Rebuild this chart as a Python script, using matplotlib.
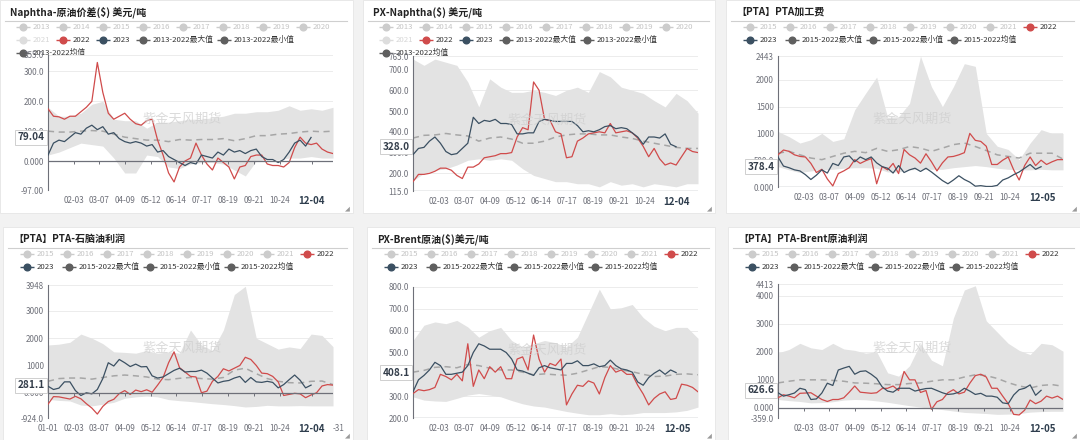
import matplotlib
matplotlib.use('Agg')
import matplotlib.pyplot as plt
import matplotlib.transforms as mtransforms
from matplotlib.patches import Rectangle

plt.rcParams['font.family'] = ['Noto Sans CJK SC', 'DejaVu Sans']

W, H = 1080, 440

# 日期轴: 一年中的第几天 (2022/2023 每周一个点, 历史区间每两周一个点)
LINE_DAYS = list(range(1, 366, 7))
BAND_DAYS = list(range(1, 366, 14))
TICK_DAYS = [34, 66, 99, 132, 165, 198, 231, 264, 297]
TICK_LABELS = ['02-03', '03-07', '04-09', '05-12', '06-14', '07-17', '08-19', '09-21', '10-24']

# ---- Naphtha-原油价差 ----
NAP_CRUDE_2022 = [175, 150, 148, 140, 150, 150, 165, 180, 200, 330, 230, 160, 140, 150, 160, 140, 125, 120, 135, 140,
                  70, 20, -40, -70, -20, 0, 10, 60, 20, -10, -30, 10, -5, -20, -60, -20, -15, 15, 20, 20,
                  -10, -15, -15, -20, -5, 45, 80, 60, 55, 60, 40, 30, 25]
NAP_CRUDE_2023 = [20, 60, 70, 65, 80, 95, 90, 110, 120, 105, 115, 90, 95, 75, 65, 60, 65, 60, 50, 55,
                  30, 35, 15, 5, -5, -15, -5, -10, 20, 15, 10, 30, 20, 40, 30, 35, 25, 35, 40, 15,
                  5, 5, -5, 5, 30, 60, 70, 50, 79.04]
NAP_CRUDE_MAX = [180, 150, 150, 160, 190, 200, 140, 135, 135, 110, 130, 130, 135, 140, 140, 145, 150, 160, 160, 165,
                 165, 170, 185, 170, 175, 170, 180]
NAP_CRUDE_MIN = [20, 30, 45, 60, 55, 50, 10, -40, -40, 20, 15, -20, -25, -10, -5, -5, -10, -30, -50, 0,
                 5, 5, 10, 10, 15, 10, 10]
NAP_CRUDE_MEAN = [100, 97, 97, 100, 102, 100, 90, 80, 75, 70, 70, 65, 72, 70, 72, 72, 75, 68, 75, 85,
                  85, 90, 92, 97, 100, 98, 100]

# ---- PX-Naphtha ----
PX_NAP_2022 = [160, 195, 195, 200, 210, 225, 225, 215, 190, 175, 230, 230, 245, 275, 280, 285, 295, 295, 300, 375,
               420, 410, 640, 600, 460, 455, 400, 390, 275, 280, 355, 370, 390, 395, 400, 395, 440, 395, 400, 405,
               395, 370, 330, 280, 320, 270, 240, 250, 240, 280, 320, 305, 300]
PX_NAP_2023 = [290, 320, 325, 355, 375, 345, 305, 290, 295, 320, 345, 470, 440, 455, 450, 460, 440, 440, 435, 390,
               390, 395, 395, 450, 460, 455, 450, 450, 450, 450, 430, 400, 405, 400, 410, 425, 430, 415, 420, 415,
               395, 375, 340, 375, 375, 370, 390, 340, 328.0]
PX_NAP_MAX = [750, 720, 750, 735, 720, 640, 520, 655, 615, 590, 590, 600, 590, 575, 600, 615, 590, 690, 665, 615,
              600, 585, 550, 520, 585, 550, 490]
PX_NAP_MIN = [165, 200, 215, 222, 240, 263, 270, 263, 270, 263, 222, 190, 175, 160, 160, 150, 150, 135, 160, 143,
              150, 135, 150, 143, 135, 150, 150]
PX_NAP_MEAN = [370, 383, 385, 392, 385, 380, 355, 370, 375, 365, 345, 345, 355, 375, 385, 390, 390, 385, 385, 375,
               368, 355, 345, 335, 325, 320, 320]

# ---- PTA加工费 ----
PTA_FEE_2022 = [600, 690, 665, 600, 570, 560, 440, 270, 330, 150, 20, 250, 300, 360, 510, 440, 490, 530, 60, 380,
                320, 440, 250, 700, 600, 540, 445, 620, 470, 300, 450, 560, 570, 600, 640, 1000, 870, 850, 760, 420,
                420, 500, 560, 320, 130, 400, 560, 400, 500, 420, 470, 510, 510]
PTA_FEE_2023 = [560, 390, 360, 320, 300, 230, 140, 220, 320, 260, 440, 400, 560, 580, 470, 560, 510, 560, 450, 380,
                350, 260, 400, 270, 320, 350, 290, 350, 280, 200, 120, 60, 130, 210, 140, 90, 15, 25, 10, 10,
                30, 130, 170, 230, 280, 350, 420, 330, 378.4]
PTA_FEE_MAX = [1035, 940, 820, 880, 1000, 850, 900, 1440, 1750, 2050, 1300, 1310, 1560, 2440, 1870, 1500, 1870, 2300,
               2250, 1000, 760, 700, 510, 820, 1070, 1000, 1000]
PTA_FEE_MIN = [380, 320, 270, 300, 320, 330, 350, 360, 360, 350, 280, 280, 320, 330, 330, 330, 360, 380, 400, 380,
               350, 330, 320, 320, 330, 320, 320]
PTA_FEE_MEAN = [630, 665, 600, 540, 510, 570, 630, 665, 640, 720, 665, 695, 755, 725, 665, 725, 790, 820, 755, 680,
                600, 570, 540, 630, 630, 630, 520]

# ---- PTA-石脑油利润 ----
PTA_NAP_2022 = [-420, -140, -150, -190, -230, -130, -220, -400, -560, -780, -500, -320, -240, -30, 80, -60, 100, 40,
                110, 20, 280, 560, 1100, 1500, 920, 760, 600, 580, 0, 60, 420, 600, 880, 800, 900, 1000, 1300, 1220,
                1000, 720, 700, 600, 400, -100, -60, -20, -40, -180, -80, 0, 250, 300, 280]
PTA_NAP_2023 = [240, 120, 170, 400, 400, 80, -100, 0, -40, 120, 520, 1100, 980, 1220, 1100, 960, 1050, 950, 960, 620,
                540, 580, 700, 820, 900, 760, 780, 780, 830, 720, 540, 360, 420, 450, 540, 600, 380, 560, 400, 380,
                420, 380, 180, 300, 480, 650, 460, 180, 281.1]
PTA_NAP_MAX = [1750, 1780, 1850, 2150, 2000, 1800, 1500, 1480, 1450, 1550, 1450, 1500, 1450, 2300, 1750, 1550, 2300,
               3600, 3900, 2000, 1800, 1600, 1680, 1620, 2150, 2100, 1690]
PTA_NAP_MIN = [-240, -280, -300, -450, -480, -420, -350, -200, -150, -120, -150, -250, -290, -320, -360, -400, -430,
               -470, -520, -500, -460, -480, -480, -470, -480, -480, -480]
PTA_NAP_MEAN = [420, 520, 540, 540, 500, 560, 620, 650, 620, 580, 500, 480, 530, 560, 520, 500, 560, 830, 900, 700,
                520, 420, 370, 360, 420, 430, 300]

# ---- PX-Brent原油 ----
PX_BRENT_2022 = [312, 330, 325, 330, 340, 400, 390, 375, 400, 370, 540, 345, 420, 380, 435, 410, 435, 380, 380, 470,
                 480, 420, 580, 470, 410, 450, 440, 470, 260, 310, 350, 345, 370, 360, 310, 385, 440, 410, 420, 400,
                 400, 350, 310, 260, 290, 310, 320, 285, 290, 355, 350, 340, 320]
PX_BRENT_2023 = [320, 375, 395, 420, 455, 440, 400, 400, 405, 410, 440, 500, 540, 530, 515, 515, 515, 500, 470, 420,
                 415, 405, 395, 430, 440, 430, 425, 420, 450, 450, 462, 440, 440, 448, 435, 440, 465, 440, 425, 420,
                 410, 365, 350, 385, 405, 420, 400, 420, 408.1]
PX_BRENT_MAX = [555, 625, 640, 632, 647, 617, 570, 600, 615, 555, 525, 540, 555, 545, 525, 570, 680, 790, 700, 705,
                720, 660, 620, 600, 615, 615, 565]
PX_BRENT_MIN = [297, 282, 278, 276, 290, 305, 312, 305, 297, 280, 265, 255, 250, 240, 230, 222, 215, 215, 220, 215,
                218, 225, 225, 225, 228, 235, 250]
PX_BRENT_MEAN = [410, 418, 432, 435, 430, 445, 440, 428, 420, 420, 410, 398, 402, 398, 396, 405, 420, 435, 432, 420,
                 412, 400, 390, 392, 400, 402, 398]

# ---- PTA-Brent原油利润 ----
PTA_BRENT_2022 = [360, 470, 420, 360, 520, 530, 540, 420, 300, 230, 300, 300, 360, 560, 780, 560, 540, 520, 540, 690,
                  700, 780, 620, 1300, 1000, 1000, 550, 620, -50, 220, 300, 540, 650, 500, 560, 880, 1150, 1200, 1100,
                  700, 700, 420, 150, -230, -250, -80, 280, 150, 240, 420, 350, 420, 300]
PTA_BRENT_2023 = [540, 420, 470, 530, 700, 650, 300, 320, 530, 880, 800, 1350, 1420, 1480, 1200, 1300, 1320, 1200,
                  1050, 750, 600, 560, 700, 700, 700, 600, 650, 690, 700, 620, 540, 480, 500, 560, 700, 600, 480, 520,
                  420, 420, 380, 180, 150, 460, 650, 700, 820, 450, 626.6]
PTA_BRENT_MAX = [1960, 2080, 2300, 2140, 2080, 2300, 2100, 2050, 1950, 2000, 1250, 1130, 1500, 2300, 1700, 1500, 3200,
                 4200, 4350, 3100, 2700, 2300, 2050, 1900, 2300, 2250, 2020]
PTA_BRENT_MIN = [300, 260, 230, 180, 190, 220, 280, 300, 290, 250, 200, 140, 80, 30, -20, -60, -110, -160, -180, -200,
                 -230, -220, -200, -150, -130, -120, -120]
PTA_BRENT_MEAN = [890, 950, 1000, 1000, 1000, 980, 950, 890, 880, 860, 830, 830, 870, 890, 950, 1000, 1000, 1100,
                  1180, 1150, 1050, 900, 780, 710, 800, 830, 770]

RED = '#d04b4b'
NAVY = '#3b5062'
AXIS = '#6e7079'

panels = [
    dict(title='Naphtha-原油价差($) 美元/吨', group='2013', card=(0, 0, 353, 213), rect=(48, 55, 333, 190),
         data=(NAP_CRUDE_2022, NAP_CRUDE_2023, NAP_CRUDE_MAX, NAP_CRUDE_MIN, NAP_CRUDE_MEAN),
         ylim=(-97, 355), yticks=[-97, 0, 100, 200, 300, 355],
         ylabels=['-97.00', '0.000', '100.0', '200.0', '300.0', '355.0'], now=(338, '12-04'), box='79.04'),
    dict(title='PX-Naphtha($) 美元/吨', group='2013', card=(363, 0, 715, 213), rect=(413, 56, 698, 191),
         data=(PX_NAP_2022, PX_NAP_2023, PX_NAP_MAX, PX_NAP_MIN, PX_NAP_MEAN),
         ylim=(115, 765), yticks=[115, 200, 300, 400, 500, 600, 700, 765],
         ylabels=['115.0', '200.0', '300.0', '400.0', '500.0', '600.0', '700.0', '765.0'], now=(338, '12-04'),
         box='328.0'),
    dict(title='【PTA】PTA加工费', group='2015', card=(726, 0, 1080, 213), rect=(778, 56, 1063, 187),
         data=(PTA_FEE_2022, PTA_FEE_2023, PTA_FEE_MAX, PTA_FEE_MIN, PTA_FEE_MEAN),
         ylim=(0, 2443), yticks=[0, 500, 1000, 1500, 2000, 2443],
         ylabels=['0.000', '500.0', '1000', '1500', '2000', '2443'], now=(339, '12-05'), box='378.4'),
    dict(title='【PTA】PTA-石脑油利润', group='2015', card=(3, 227, 353, 440), rect=(48, 285, 333, 418),
         data=(PTA_NAP_2022, PTA_NAP_2023, PTA_NAP_MAX, PTA_NAP_MIN, PTA_NAP_MEAN),
         ylim=(-924, 3948), yticks=[-924, 0, 1000, 2000, 3000, 3948],
         ylabels=['-924.0', '0.000', '1000', '2000', '3000', '3948'], now=(338, '12-04'), box='281.1',
         ends=True),
    dict(title='PX-Brent原油($)美元/吨', group='2015', card=(367, 227, 715, 440), rect=(413, 287, 698, 418),
         data=(PX_BRENT_2022, PX_BRENT_2023, PX_BRENT_MAX, PX_BRENT_MIN, PX_BRENT_MEAN),
         ylim=(200, 800), yticks=[200, 300, 400, 500, 600, 700, 800],
         ylabels=['200.0', '300.0', '400.0', '500.0', '600.0', '700.0', '800.0'], now=(339, '12-05'),
         box='408.1'),
    dict(title='【PTA】PTA-Brent原油利润', group='2015', card=(728, 227, 1080, 440), rect=(778, 284, 1063, 418),
         data=(PTA_BRENT_2022, PTA_BRENT_2023, PTA_BRENT_MAX, PTA_BRENT_MIN, PTA_BRENT_MEAN),
         ylim=(-359, 4413), yticks=[-359, 0, 1000, 2000, 3000, 4000, 4413],
         ylabels=['-359.0', '0.000', '1000', '2000', '3000', '4000', '4413'], now=(339, '12-05'), box='626.6'),
]

fig = plt.figure(figsize=(W / 100, H / 100), dpi=100, facecolor='#f2f2f2')
bg = fig.add_axes([0, 0, 1, 1])
bg.set_xlim(0, W)
bg.set_ylim(H, 0)
bg.axis('off')


def legend_item(x, y, color, label, tcolor):
    bg.plot([x - 7, x + 7], [y, y], color=color, lw=1.0, solid_capstyle='butt')
    bg.plot([x], [y], 'o', color=color, ms=4.8, mec=color)
    bg.text(x + 10, y, label, fontsize=5.6, color=tcolor, va='center', ha='left')


def draw_legend(cx, cy, group):
    grey, grey_t = '#cccccc', '#c4c4c4'
    dark, dark_t = '#5f5f5f', '#333333'
    if group == '2013':
        for i, yr in enumerate(range(2013, 2021)):
            legend_item(cx + 23 + 40 * i, cy + 27, grey, str(yr), grey_t)
        legend_item(cx + 23, cy + 40, '#dddddd', '2021', '#d6d6d6')
        legend_item(cx + 63, cy + 40, RED, '2022', dark_t)
        legend_item(cx + 103, cy + 40, NAVY, '2023', dark_t)
        legend_item(cx + 143, cy + 40, dark, '2013-2022最大值', dark_t)
        legend_item(cx + 224, cy + 40, dark, '2013-2022最小值', dark_t)
        legend_item(cx + 23, cy + 53, dark, '2013-2022均值', dark_t)
    else:
        for i, yr in enumerate(range(2015, 2022)):
            legend_item(cx + 24 + 40 * i, cy + 27, grey, str(yr), grey_t)
        legend_item(cx + 304, cy + 27, RED, '2022', dark_t)
        legend_item(cx + 24, cy + 40, NAVY, '2023', dark_t)
        legend_item(cx + 66, cy + 40, dark, '2015-2022最大值', dark_t)
        legend_item(cx + 147, cy + 40, dark, '2015-2022最小值', dark_t)
        legend_item(cx + 228, cy + 40, dark, '2015-2022均值', dark_t)


for p in panels:
    x0, y0, x1, y1 = p['card']
    bg.add_patch(Rectangle((x0, y0), x1 - x0, y1 - y0, facecolor='white', edgecolor='#e6e6e6', lw=0.6))
    bg.text(x0 + 10, y0 + 12, p['title'], fontsize=7.2, fontweight='bold', color='#222222',
            va='center', ha='left')
    bg.plot([x0 + 5, x1 - 6], [y0 + 21, y0 + 21], color='#cfcfcf', lw=0.8)
    bg.text(x1 - 3, y1 - 2, '◢', fontsize=3.5, color='#9a9a9a', ha='right', va='bottom')
    draw_legend(x0, y0, p['group'])

    l, t, r, b = p['rect']
    ax = fig.add_axes([l / W, 1 - b / H, (r - l) / W, (b - t) / H])
    ax.set_facecolor('none')
    s22, s23, smax, smin, smean = p['data']

    ax.fill_between(BAND_DAYS, smin, smax, color='#e3e3e3', lw=0, zorder=1)
    ax.plot(BAND_DAYS, smean, color='#a6a6a6', lw=1.1, ls=(0, (4, 3)), zorder=2)
    ax.plot(LINE_DAYS[:len(s22)], s22, color=RED, lw=0.9, zorder=3)
    ax.plot(LINE_DAYS[:len(s23)], s23, color=NAVY, lw=0.9, zorder=4)

    ymin, ymax = p['ylim']
    ax.set_xlim(1, 365)
    ax.set_ylim(ymin, ymax)
    ax.set_yticks(p['yticks'])
    ax.set_yticklabels(p['ylabels'])
    ax.grid(axis='y', color='#ececec', lw=0.7, zorder=0)
    ax.set_axisbelow(True)
    for side in ['top', 'right', 'bottom']:
        ax.spines[side].set_visible(False)
    ax.spines['left'].set_color(AXIS)
    ax.spines['left'].set_linewidth(0.8)

    base = 0 if ymin < 0 else ymin
    ax.axhline(base, color=AXIS, lw=0.9, zorder=5)
    now_day, now_label = p['now']
    tdays = list(TICK_DAYS)
    tlabels = list(TICK_LABELS)
    if p.get('ends'):
        tdays = [1] + tdays
        tlabels = ['01-01'] + tlabels
    dy = 3.0 / (b - t) * (ymax - ymin)
    ax.vlines(TICK_DAYS + [now_day], base - dy, base, color=AXIS, lw=0.7, zorder=5)

    ax.set_xticks(tdays + [now_day])
    ax.set_xticklabels(tlabels + [now_label])
    ax.tick_params(axis='x', length=0, pad=4, labelsize=5.8, labelcolor=AXIS)
    ax.tick_params(axis='y', length=0, pad=3, labelsize=5.8, labelcolor=AXIS)
    last = ax.get_xticklabels()[-1]
    last.set_fontweight('bold')
    last.set_fontsize(7.0)
    last.set_color('#2f3e4e')
    if p.get('ends'):
        # 12-31 标签被卡片边缘截断, 只露出 "-31"
        ax.text(365, -0.045, '-31', transform=mtransforms.blended_transform_factory(ax.transData, ax.transAxes),
                fontsize=5.8, color=AXIS, ha='left', va='top')

    ax.text(0.47, 0.52, '紫金天风期货', transform=ax.transAxes, fontsize=9.5, color='#cfcfcf',
            alpha=0.75, ha='center', va='center', zorder=6)

    trans = mtransforms.blended_transform_factory(ax.transAxes, ax.transData)
    ax.text(-0.012, s23[-1], p['box'], transform=trans, ha='right', va='center', fontsize=7.2,
            fontweight='bold', color='#333d4a', zorder=7,
            bbox=dict(boxstyle='square,pad=0.25', fc='white', ec='#c8c8c8', lw=0.6))

fig.savefig('out.png', dpi=100, facecolor=fig.get_facecolor())
